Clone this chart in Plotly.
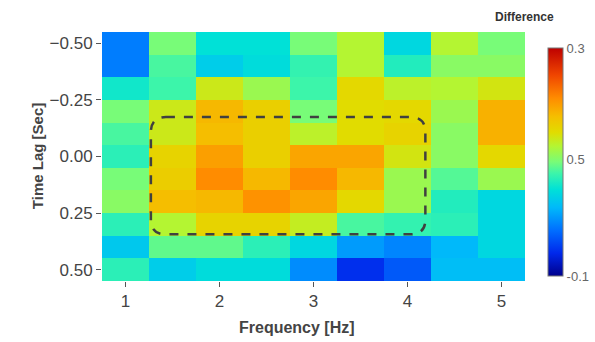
import plotly.graph_objects as go

freq = [1.0, 1.5, 2.0, 2.5, 3.0, 3.5, 4.0, 4.5, 5.0]
lag = [-0.5, -0.4, -0.3, -0.2, -0.1, 0.0, 0.1, 0.2, 0.3, 0.4, 0.5]
difference = [
    [-0.012, 0.10, 0.052, 0.052, 0.10, 0.128, 0.044, 0.128, 0.10],
    [-0.012, 0.084, 0.036, 0.048, 0.076, 0.128, 0.068, 0.108, 0.108],
    [0.06, 0.08, 0.14, 0.116, 0.08, 0.156, 0.132, 0.128, 0.144],
    [0.10, 0.14, 0.184, 0.164, 0.10, 0.152, 0.156, 0.116, 0.188],
    [0.084, 0.14, 0.18, 0.164, 0.132, 0.152, 0.16, 0.108, 0.188],
    [0.072, 0.16, 0.20, 0.164, 0.196, 0.196, 0.144, 0.108, 0.156],
    [0.10, 0.166, 0.212, 0.184, 0.212, 0.184, 0.116, 0.088, 0.116],
    [0.108, 0.18, 0.184, 0.208, 0.196, 0.156, 0.116, 0.068, 0.044],
    [0.072, 0.128, 0.16, 0.16, 0.136, 0.084, 0.076, 0.072, 0.044],
    [0.032, 0.092, 0.092, 0.072, 0.044, 0.004, -0.008, 0.02, 0.044],
    [0.072, 0.036, 0.048, 0.048, -0.004, -0.056, -0.032, 0.024, 0.024],
]
cbar_tickvals = [0.3, 0.105, -0.1]
cbar_ticktext = ["0.3", "0.5", "-0.1"]
x_ticks = [1, 2, 3, 4, 5]
y_ticks = [-0.5, -0.25, 0.0, 0.25, 0.5]

colorscale = [
    [0.00, "rgb(0,0,140)"],
    [0.10, "rgb(0,40,235)"],
    [0.20, "rgb(0,110,255)"],
    [0.30, "rgb(0,185,250)"],
    [0.38, "rgb(0,225,215)"],
    [0.45, "rgb(60,245,170)"],
    [0.50, "rgb(120,252,120)"],
    [0.57, "rgb(180,245,50)"],
    [0.63, "rgb(225,220,0)"],
    [0.70, "rgb(245,190,0)"],
    [0.78, "rgb(255,140,0)"],
    [0.88, "rgb(240,70,0)"],
    [1.00, "rgb(190,0,0)"],
]

FONT = "Liberation Sans, Arial, sans-serif"

fig = go.Figure()
fig.add_trace(go.Heatmap(
    x=freq, y=lag, z=difference,
    zmin=-0.1, zmax=0.3,
    colorscale=colorscale,
    colorbar=dict(
        x=1.031, xanchor="left", xref="paper",
        y=0.478, yanchor="middle",
        lenmode="pixels", len=248,
        thickness=15,
        outlinewidth=1, outlinecolor="#777",
        tickvals=cbar_tickvals, ticktext=cbar_ticktext,
        ticks="", ticklabelposition="outside",
        tickfont=dict(family=FONT, size=13, color="#666"),
    ),
))

# dashed rounded rectangle highlight
x0, x1, y0, y1 = 1.27, 4.19, -0.174, 0.344
rx, ry = 0.16, 0.066
path = (f"M {x0+rx},{y0} L {x1-rx},{y0} Q {x1},{y0} {x1},{y0+ry} "
        f"L {x1},{y1-ry} Q {x1},{y1} {x1-rx},{y1} L {x0+rx},{y1} "
        f"Q {x0},{y1} {x0},{y1-ry} L {x0},{y0+ry} Q {x0},{y0} {x0+rx},{y0} Z")
fig.add_shape(type="path", path=path, xref="x", yref="y",
              line=dict(color="#404040", width=2.5, dash="dash"))

fig.add_annotation(text="<b>Difference</b>", xref="paper", yref="paper",
                   x=1.073, y=1.06, yanchor="middle", showarrow=False,
                   font=dict(family=FONT, size=12, color="#333"))
fig.add_annotation(text="<b>Frequency [Hz]</b>", xref="paper", yref="paper",
                   x=0.461, y=-0.185, yanchor="middle", showarrow=False,
                   font=dict(family=FONT, size=16, color="#444"))
fig.add_annotation(text="<b>Time Lag [Sec]</b>", xref="paper", yref="paper",
                   x=-0.177, y=0.5, textangle=-90, showarrow=False,
                   font=dict(family=FONT, size=15, color="#444"))

fig.update_xaxes(
    tickvals=x_ticks, ticks="outside", ticklen=5, tickcolor="#555",
    showgrid=False, zeroline=False, showline=False,
    tickfont=dict(family=FONT, size=17, color="#444"),
)
fig.update_yaxes(
    tickvals=y_ticks, tickformat=".2f", autorange="reversed",
    ticks="outside", ticklen=5, tickcolor="#555",
    showgrid=False, zeroline=False, showline=False,
    tickfont=dict(family=FONT, size=17, color="#444"),
)
fig.update_layout(
    width=595, height=342,
    margin=dict(l=102, r=70, t=32, b=61, autoexpand=False),
    paper_bgcolor="white", plot_bgcolor="white",
    showlegend=False,
)
fig.write_html("out.html")
